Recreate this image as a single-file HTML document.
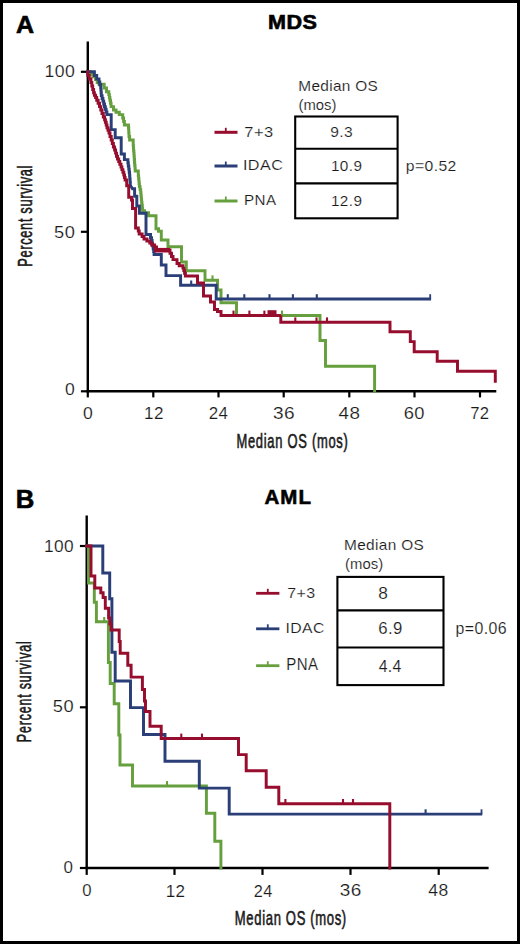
<!DOCTYPE html>
<html><head><meta charset="utf-8"><style>
html,body{margin:0;padding:0;background:#fff;}
body{width:520px;height:944px;overflow:hidden;}
svg{display:block;font-family:"Liberation Sans",sans-serif;font-kerning:none;}
text.t{stroke:#fff;stroke-width:0.15px;paint-order:fill stroke;}
text.ax{stroke:#1a1a1a;stroke-width:0.6px;}
text.bb{stroke:#000;stroke-width:0.6px;}
</style></head><body>
<svg width="520" height="944" viewBox="0 0 520 944">
<rect x="0" y="0" width="520" height="944" fill="#fff"/>
<text class="bb" transform="translate(15.98,33.20) scale(1.0194,1)" font-size="24.56" font-weight="bold" fill="#000">A</text>
<text class="bb" transform="translate(268.06,28.91) scale(1.1000,1)" font-size="19.63" letter-spacing="0.45" font-weight="bold" fill="#000">MDS</text>
<line x1="87.8" y1="41.4" x2="87.8" y2="392.40000000000003" stroke="#000" stroke-width="2.4"/>
<line x1="86.6" y1="391.3" x2="496.3" y2="391.3" stroke="#000" stroke-width="2.4"/>
<line x1="80.9" y1="71.8" x2="87.8" y2="71.8" stroke="#000" stroke-width="2.2"/>
<line x1="80.9" y1="231.8" x2="87.8" y2="231.8" stroke="#000" stroke-width="2.2"/>
<line x1="80.9" y1="391.3" x2="87.8" y2="391.3" stroke="#000" stroke-width="2.2"/>
<line x1="87.8" y1="391.3" x2="87.8" y2="397.4" stroke="#000" stroke-width="2.2"/>
<line x1="153.3" y1="391.3" x2="153.3" y2="397.4" stroke="#000" stroke-width="2.2"/>
<line x1="218.5" y1="391.3" x2="218.5" y2="397.4" stroke="#000" stroke-width="2.2"/>
<line x1="283.7" y1="391.3" x2="283.7" y2="397.4" stroke="#000" stroke-width="2.2"/>
<line x1="349.3" y1="391.3" x2="349.3" y2="397.4" stroke="#000" stroke-width="2.2"/>
<line x1="414.5" y1="391.3" x2="414.5" y2="397.4" stroke="#000" stroke-width="2.2"/>
<line x1="480.0" y1="391.3" x2="480.0" y2="397.4" stroke="#000" stroke-width="2.2"/>
<text class="t" transform="translate(44.46,76.75) scale(1.1252,1)" font-size="15.68" letter-spacing="0.40" fill="#1a1a1a">100</text>
<text class="t" transform="translate(54.07,238.34) scale(1.1138,1)" font-size="16.38" letter-spacing="0.40" fill="#1a1a1a">50</text>
<text class="t" transform="translate(64.91,395.35) scale(1.1108,1)" font-size="15.82" fill="#1a1a1a">0</text>
<text class="t" transform="translate(83.11,418.84) scale(1.1010,1)" font-size="15.96" fill="#1a1a1a">0</text>
<text class="t" transform="translate(144.10,419.00) scale(1.0578,1)" font-size="16.18" letter-spacing="0.40" fill="#1a1a1a">12</text>
<text class="t" transform="translate(208.75,419.00) scale(1.0460,1)" font-size="16.18" letter-spacing="0.40" fill="#1a1a1a">24</text>
<text class="t" transform="translate(272.97,418.84) scale(1.1933,1)" font-size="15.96" letter-spacing="0.40" fill="#1a1a1a">36</text>
<text class="t" transform="translate(338.57,418.84) scale(1.1818,1)" font-size="15.96" letter-spacing="0.40" fill="#1a1a1a">48</text>
<text class="t" transform="translate(403.67,418.84) scale(1.1484,1)" font-size="15.96" letter-spacing="0.40" fill="#1a1a1a">60</text>
<text class="t" transform="translate(470.14,419.00) scale(1.0324,1)" font-size="16.18" letter-spacing="0.40" fill="#1a1a1a">72</text>
<text class="ax" transform="translate(236.44,447.50) scale(0.6600,1)" font-size="19.62" letter-spacing="1.08" fill="#1a1a1a">Median OS (mos)</text>
<text transform="translate(32.30,266.76) rotate(-90) scale(0.6400,1)" font-size="20.14" letter-spacing="1.00" fill="#1a1a1a" class="ax">Percent survival</text>
<line x1="214.5" y1="132.3" x2="237.5" y2="132.3" stroke="#960d2e" stroke-width="3.0"/>
<line x1="225.8" y1="132.3" x2="225.8" y2="127.80000000000001" stroke="#960d2e" stroke-width="1.8"/>
<text class="t" transform="translate(244.36,137.35) scale(1.0981,1)" font-size="14.97" letter-spacing="0.40" fill="#1a1a1a">7+3</text>
<line x1="214.5" y1="166" x2="237.5" y2="166" stroke="#2a3f78" stroke-width="3.0"/>
<line x1="225.8" y1="166" x2="225.8" y2="161.5" stroke="#2a3f78" stroke-width="1.8"/>
<text class="t" transform="translate(242.91,170.46) scale(1.0894,1)" font-size="14.83" letter-spacing="0.40" fill="#1a1a1a">IDAC</text>
<line x1="214.5" y1="201" x2="237.5" y2="201" stroke="#66a03e" stroke-width="3.0"/>
<line x1="225.8" y1="201" x2="225.8" y2="196.5" stroke="#66a03e" stroke-width="1.8"/>
<text class="t" transform="translate(244.06,205.30) scale(0.9844,1)" font-size="15.41" letter-spacing="0.40" fill="#1a1a1a">PNA</text>
<text class="t" transform="translate(298.34,90.90) scale(1.0000,1)" font-size="15.41" letter-spacing="0.29" fill="#1a1a1a">Median OS</text>
<text class="t" transform="translate(298.58,109.80) scale(0.9600,1)" font-size="15.46" letter-spacing="-0.02" fill="#1a1a1a">(mos)</text>
<rect x="295.2" y="116.5" width="102.4" height="101.8" fill="none" stroke="#000" stroke-width="2.1"/>
<line x1="295.2" y1="148.8" x2="397.6" y2="148.8" stroke="#000" stroke-width="2.1"/>
<line x1="295.2" y1="183.4" x2="397.6" y2="183.4" stroke="#000" stroke-width="2.1"/>
<text class="t" transform="translate(330.27,137.36) scale(1.0709,1)" font-size="14.55" letter-spacing="0.40" fill="#1a1a1a">9.3</text>
<text class="t" transform="translate(330.93,171.16) scale(1.0535,1)" font-size="14.55" letter-spacing="0.40" fill="#1a1a1a">10.9</text>
<text class="t" transform="translate(330.93,205.86) scale(1.0438,1)" font-size="14.69" letter-spacing="0.40" fill="#1a1a1a">12.9</text>
<text class="t" transform="translate(405.79,170.84) scale(1.0322,1)" font-size="15.24" letter-spacing="0.40" fill="#1a1a1a">p=0.52</text>
<path d="M87.8,71.8 L90.3,71.8 L90.3,74.2 L92.9,74.2 L92.9,76.7 L95.5,76.7 L95.5,79.6 L97.2,79.6 L97.2,82.5 L99.0,82.5 L99.0,84.2 L104.2,84.2 L104.2,88.0 L106.5,88.0 L106.5,91.7 L108.8,91.7 L108.8,94.6 L109.4,94.6 L109.4,97.5 L109.9,97.5 L109.9,100.3 L110.5,100.3 L110.5,103.2 L111.1,103.2 L111.1,106.6 L113.5,106.6 L113.5,110.0 L116.0,110.0 L116.0,112.3 L119.3,112.3 L119.3,114.6 L122.7,114.6 L122.7,118.0 L123.6,118.0 L123.6,121.5 L124.4,121.5 L124.4,125.0 L128.5,125.0 L128.5,127.7 L128.7,127.7 L128.7,130.3 L128.8,130.3 L128.8,133.0 L129.0,133.0 L129.0,136.5 L129.6,136.5 L129.6,140.0 L130.2,140.0 L133.2,140.0 L133.2,142.3 L133.2,145.2 L133.4,145.2 L133.4,148.0 L133.6,148.0 L133.6,150.9 L133.9,150.9 L133.9,153.8 L134.1,153.8 L134.1,156.7 L134.3,156.7 L134.3,159.5 L134.5,159.5 L134.5,162.4 L134.7,162.4 L134.7,165.3 L135.0,165.3 L135.0,168.1 L135.2,168.1 L135.2,171.0 L135.4,171.0 L138.3,171.0 L138.3,172.9 L138.3,175.6 L138.6,175.6 L138.6,178.4 L138.9,178.4 L138.9,181.1 L139.1,181.1 L139.1,183.8 L139.4,183.8 L139.4,186.7 L140.1,186.7 L140.1,189.6 L140.7,189.6 L140.7,192.8 L141.0,192.8 L141.0,196.0 L141.3,196.0 L141.3,199.2 L141.6,199.2 L141.6,202.1 L141.9,202.1 L141.9,205.0 L142.3,205.0 L142.3,207.9 L142.6,207.9 L142.6,210.8 L144.5,210.8 L144.5,212.7 L146.4,212.7 L148.5,212.7 L148.5,215.8 L156.0,215.8 L156.0,228.8 L158.5,228.8 L158.5,231.3 L161.3,231.3 L161.3,240.0 L168.0,240.0 L168.0,246.7 L181.5,246.7 L181.5,262.0 L186.3,262.0 L186.3,270.8 L205.0,270.8 L205.0,280.2 L217.5,280.2 L217.5,290.0 L221.0,290.0 L221.0,302.8 L236.5,302.8 L236.5,315.5 L320.0,315.5 L320.0,340.5 L325.5,340.5 L325.5,366.3 L374.6,366.3 L374.6,391.3" fill="none" stroke="#66a03e" stroke-width="2.95" stroke-linejoin="miter" stroke-linecap="square"/>
<path d="M87.8,71.8 L94.4,71.8 L94.4,75.4 L96.7,75.4 L96.7,79.0 L99.0,79.0 L99.0,81.9 L99.8,81.9 L99.8,84.8 L100.7,84.8 L100.7,87.5 L100.9,87.5 L100.9,90.1 L101.1,90.1 L101.1,92.8 L101.3,92.8 L101.3,95.6 L102.1,95.6 L102.1,98.4 L102.9,98.4 L102.9,101.1 L103.7,101.1 L103.7,103.9 L104.5,103.9 L104.5,106.7 L105.3,106.7 L105.3,109.3 L106.1,109.3 L106.1,112.0 L106.9,112.0 L106.9,114.6 L107.7,114.6 L111.2,114.6 L111.2,129.6 L115.2,129.6 L115.2,137.7 L121.2,137.7 L121.2,154.0 L124.4,154.0 L124.4,159.6 L127.9,159.6 L127.9,162.8 L128.3,162.8 L128.3,165.9 L128.8,165.9 L128.8,169.1 L129.2,169.1 L129.2,172.3 L129.6,172.3 L129.6,175.7 L129.8,175.7 L129.8,179.1 L130.1,179.1 L130.1,182.4 L130.3,182.4 L130.3,185.8 L130.6,185.8 L132.5,188.7 L134.6,188.7 L134.6,196.3 L136.8,196.3 L136.8,206.0 L139.4,206.0 L139.4,213.2 L146.0,213.2 L146.0,234.5 L150.5,234.5 L150.5,237.7 L151.5,237.7 L151.5,240.4 L152.1,240.4 L152.1,243.1 L152.6,243.1 L152.6,245.8 L153.2,245.8 L153.2,248.7 L153.7,248.7 L153.7,251.5 L154.1,251.5 L154.1,254.4 L154.6,254.4 L161.3,254.4 L161.3,265.0 L166.0,265.0 L166.0,275.6 L180.6,275.6 L180.6,285.3 L216.2,285.3 L216.2,299.0 L429.6,299.0" fill="none" stroke="#2a3f78" stroke-width="2.95" stroke-linejoin="miter" stroke-linecap="square"/>
<path d="M87.8,71.8 L87.8,75.4 L89.3,75.4 L89.3,79.0 L90.9,79.0 L90.9,82.5 L91.8,82.5 L91.8,86.0 L92.7,86.0 L92.7,89.4 L93.6,89.4 L93.6,92.8 L94.4,92.8 L94.4,95.2 L95.6,95.2 L95.6,97.5 L96.7,97.5 L96.7,100.3 L98.1,100.3 L98.1,103.2 L99.5,103.2 L99.5,106.6 L100.8,106.6 L100.8,110.0 L102.0,110.0 L102.0,113.5 L103.3,113.5 L103.3,117.0 L104.6,117.0 L104.6,119.7 L105.4,119.7 L105.4,122.3 L106.2,122.3 L106.2,125.0 L107.0,125.0 L107.0,127.7 L108.0,127.7 L108.0,130.3 L109.0,130.3 L109.0,133.0 L110.0,133.0 L110.0,136.5 L111.2,136.5 L111.2,140.0 L112.3,140.0 L112.3,143.4 L113.4,143.4 L113.4,146.9 L114.6,146.9 L114.6,150.0 L115.6,150.0 L115.6,153.1 L116.5,153.1 L116.5,156.2 L117.5,156.2 L117.5,158.9 L118.7,158.9 L118.7,161.5 L119.8,161.5 L119.8,164.2 L121.0,164.2 L121.0,166.9 L121.9,166.9 L121.9,169.6 L122.9,169.6 L122.9,172.3 L123.8,172.3 L123.8,174.9 L124.5,174.9 L124.5,177.4 L125.1,177.4 L125.1,180.0 L125.8,180.0 L126.7,180.0 L126.7,185.8 L128.7,185.8 L128.7,197.3 L131.5,197.3 L131.5,200.0 L132.5,200.0 L132.5,208.5 L135.6,208.5 L135.6,228.0 L138.3,228.0 L138.3,231.0 L139.2,231.0 L139.2,234.0 L142.1,234.0 L142.1,236.5 L144.0,236.5 L144.0,239.0 L146.9,239.0 L146.9,241.0 L149.8,241.0 L149.8,243.0 L151.7,243.0 L151.7,245.0 L154.6,245.0 L154.6,247.0 L156.5,247.0 L156.5,250.0 L170.0,250.0 L170.0,253.2 L171.5,253.2 L171.5,256.5 L173.0,256.5 L173.0,259.6 L177.0,259.6 L177.0,263.5 L179.2,263.5 L179.2,265.8 L183.0,265.8 L183.0,268.1 L183.8,268.1 L183.8,270.4 L184.6,270.4 L184.6,273.2 L185.4,273.2 L185.4,276.0 L186.2,276.0 L197.5,276.0 L197.5,283.0 L203.5,283.0 L203.5,296.0 L210.5,296.0 L210.5,302.0 L214.5,302.0 L214.5,309.5 L217.5,309.5 L217.5,311.5 L221.0,311.5 L221.0,315.4 L280.8,315.4 L280.8,322.2 L390.0,322.2 L390.0,331.8 L410.3,331.8 L410.3,341.6 L414.2,341.6 L414.2,351.8 L437.2,351.8 L437.2,361.3 L457.5,361.3 L457.5,371.3 L495.3,371.3 L495.3,381.2" fill="none" stroke="#960d2e" stroke-width="2.95" stroke-linejoin="miter" stroke-linecap="square"/>
<line x1="154" y1="250.2" x2="170" y2="250.2" stroke="#960d2e" stroke-width="4.6"/>
<line x1="227.8" y1="299" x2="227.8" y2="294.2" stroke="#2a3f78" stroke-width="2.1"/>
<line x1="244.3" y1="299" x2="244.3" y2="294.2" stroke="#2a3f78" stroke-width="2.1"/>
<line x1="269.5" y1="299" x2="269.5" y2="294.2" stroke="#2a3f78" stroke-width="2.1"/>
<line x1="292.9" y1="299" x2="292.9" y2="294.2" stroke="#2a3f78" stroke-width="2.1"/>
<line x1="316.8" y1="299" x2="316.8" y2="294.2" stroke="#2a3f78" stroke-width="2.1"/>
<line x1="191.2" y1="285.3" x2="191.2" y2="280.5" stroke="#2a3f78" stroke-width="2.1"/>
<line x1="430.2" y1="299" x2="430.2" y2="294.2" stroke="#2a3f78" stroke-width="1.8"/>
<line x1="212.5" y1="280.2" x2="212.5" y2="275.4" stroke="#66a03e" stroke-width="2.1"/>
<line x1="282" y1="315.4" x2="282" y2="310.59999999999997" stroke="#66a03e" stroke-width="2.1"/>
<line x1="233.5" y1="315.4" x2="233.5" y2="310.59999999999997" stroke="#960d2e" stroke-width="2.1"/>
<line x1="249.4" y1="315.4" x2="249.4" y2="310.59999999999997" stroke="#960d2e" stroke-width="2.1"/>
<line x1="264.4" y1="315.4" x2="264.4" y2="310.59999999999997" stroke="#960d2e" stroke-width="2.1"/>
<rect x="267.5" y="310.2" width="9" height="5" fill="#960d2e"/>
<line x1="295.3" y1="322.2" x2="295.3" y2="317.4" stroke="#960d2e" stroke-width="2.1"/>
<line x1="316.5" y1="322.2" x2="316.5" y2="317.4" stroke="#960d2e" stroke-width="2.1"/>
<line x1="327" y1="322.2" x2="327" y2="317.4" stroke="#960d2e" stroke-width="2.1"/>
<text class="bb" transform="translate(15.78,507.90) scale(1.0063,1)" font-size="25.58" font-weight="bold" fill="#000">B</text>
<text class="bb" transform="translate(264.49,503.60) scale(1.0000,1)" font-size="20.49" letter-spacing="1.02" font-weight="bold" fill="#000">AML</text>
<line x1="86.7" y1="515.6" x2="86.7" y2="869.1" stroke="#000" stroke-width="2.4"/>
<line x1="85.5" y1="868" x2="488.6" y2="868" stroke="#000" stroke-width="2.4"/>
<line x1="79.9" y1="546" x2="86.7" y2="546" stroke="#000" stroke-width="2.2"/>
<line x1="79.9" y1="707.3" x2="86.7" y2="707.3" stroke="#000" stroke-width="2.2"/>
<line x1="79.9" y1="868" x2="86.7" y2="868" stroke="#000" stroke-width="2.2"/>
<line x1="86.7" y1="868" x2="86.7" y2="874.9" stroke="#000" stroke-width="2.2"/>
<line x1="174.5" y1="868" x2="174.5" y2="874.9" stroke="#000" stroke-width="2.2"/>
<line x1="262.5" y1="868" x2="262.5" y2="874.9" stroke="#000" stroke-width="2.2"/>
<line x1="350.5" y1="868" x2="350.5" y2="874.9" stroke="#000" stroke-width="2.2"/>
<line x1="438.7" y1="868" x2="438.7" y2="874.9" stroke="#000" stroke-width="2.2"/>
<text class="t" transform="translate(43.88,551.54) scale(1.0642,1)" font-size="16.24" letter-spacing="0.40" fill="#1a1a1a">100</text>
<text class="t" transform="translate(52.87,712.04) scale(1.1138,1)" font-size="16.38" letter-spacing="0.40" fill="#1a1a1a">50</text>
<text class="t" transform="translate(63.44,873.44) scale(1.0432,1)" font-size="16.24" fill="#1a1a1a">0</text>
<text class="t" transform="translate(82.35,896.44) scale(1.0215,1)" font-size="16.38" fill="#1a1a1a">0</text>
<text class="t" transform="translate(165.70,896.60) scale(1.0281,1)" font-size="16.61" letter-spacing="0.40" fill="#1a1a1a">12</text>
<text class="t" transform="translate(253.68,896.60) scale(0.9825,1)" font-size="16.61" letter-spacing="0.40" fill="#1a1a1a">24</text>
<text class="t" transform="translate(339.78,896.44) scale(1.1574,1)" font-size="16.38" letter-spacing="0.40" fill="#1a1a1a">36</text>
<text class="t" transform="translate(428.35,896.44) scale(1.0692,1)" font-size="16.38" letter-spacing="0.40" fill="#1a1a1a">48</text>
<text class="ax" transform="translate(234.83,925.20) scale(0.6600,1)" font-size="19.77" letter-spacing="1.00" fill="#1a1a1a">Median OS (mos)</text>
<text transform="translate(31.30,742.22) rotate(-90) scale(0.6400,1)" font-size="19.45" letter-spacing="1.30" fill="#1a1a1a" class="ax">Percent survival</text>
<line x1="256.1" y1="593.3" x2="279.4" y2="593.3" stroke="#960d2e" stroke-width="2.8"/>
<line x1="267.8" y1="593.3" x2="267.8" y2="588.8" stroke="#960d2e" stroke-width="1.8"/>
<text class="t" transform="translate(287.18,597.96) scale(1.0958,1)" font-size="14.55" letter-spacing="0.40" fill="#1a1a1a">7+3</text>
<line x1="256.1" y1="628.8" x2="279.4" y2="628.8" stroke="#2a3f78" stroke-width="2.8"/>
<line x1="267.8" y1="628.8" x2="267.8" y2="624.3" stroke="#2a3f78" stroke-width="1.8"/>
<text class="t" transform="translate(285.55,633.35) scale(1.0229,1)" font-size="15.40" letter-spacing="0.40" fill="#1a1a1a">IDAC</text>
<line x1="256.1" y1="665.7" x2="279.4" y2="665.7" stroke="#66a03e" stroke-width="2.8"/>
<line x1="267.8" y1="665.7" x2="267.8" y2="661.2" stroke="#66a03e" stroke-width="1.8"/>
<text class="t" transform="translate(286.27,670.30) scale(0.9572,1)" font-size="15.70" letter-spacing="0.40" fill="#1a1a1a">PNA</text>
<text class="t" transform="translate(344.04,550.40) scale(1.0000,1)" font-size="15.41" letter-spacing="0.34" fill="#1a1a1a">Median OS</text>
<text class="t" transform="translate(345.08,569.30) scale(0.9600,1)" font-size="15.46" letter-spacing="0.06" fill="#1a1a1a">(mos)</text>
<rect x="337.4" y="576.9" width="106.1" height="108.2" fill="none" stroke="#000" stroke-width="2.1"/>
<line x1="337.4" y1="610.4" x2="443.5" y2="610.4" stroke="#000" stroke-width="2.1"/>
<line x1="337.4" y1="647.5" x2="443.5" y2="647.5" stroke="#000" stroke-width="2.1"/>
<text class="t" transform="translate(378.25,598.64) scale(1.0816,1)" font-size="15.96" fill="#1a1a1a">8</text>
<text class="t" transform="translate(378.15,634.14) scale(1.0504,1)" font-size="15.96" letter-spacing="0.40" fill="#1a1a1a">6.9</text>
<text class="t" transform="translate(378.64,671.70) scale(0.9376,1)" font-size="16.86" letter-spacing="0.40" fill="#1a1a1a">4.4</text>
<text class="t" transform="translate(455.58,634.35) scale(0.9859,1)" font-size="16.12" letter-spacing="0.40" fill="#1a1a1a">p=0.06</text>
<path d="M86.7,546.0 L88.5,546.0 L88.5,583.0 L94.3,583.0 L94.3,602.3 L96.4,602.3 L96.4,621.8 L108.4,621.8 L108.4,662.5 L110.2,662.5 L110.2,683.5 L114.2,683.5 L114.2,703.7 L118.8,703.7 L118.8,735.0 L120.0,735.0 L120.0,765.0 L132.5,765.0 L132.5,785.9 L206.4,785.9 L206.4,813.3 L214.8,813.3 L214.8,841.3 L220.9,841.3 L220.9,868.0" fill="none" stroke="#66a03e" stroke-width="2.95" stroke-linejoin="miter" stroke-linecap="square"/>
<path d="M86.7,546.0 L102.8,546.0 L102.8,572.9 L109.7,572.9 L109.7,598.8 L111.9,598.8 L111.9,652.2 L115.2,652.2 L115.2,681.0 L130.5,681.0 L130.5,707.6 L143.5,707.6 L143.5,734.5 L165.0,734.5 L165.0,761.3 L199.3,761.3 L199.3,788.1 L229.2,788.1 L229.2,814.1 L480.8,814.1" fill="none" stroke="#2a3f78" stroke-width="2.95" stroke-linejoin="miter" stroke-linecap="square"/>
<path d="M86.7,546.0 L91.0,546.0 L91.0,576.0 L94.8,576.0 L94.8,588.0 L100.8,588.0 L100.8,592.8 L103.1,592.8 L103.1,597.5 L105.3,597.5 L105.3,608.2 L108.6,608.2 L108.6,618.0 L109.8,618.0 L109.8,624.0 L111.0,624.0 L111.0,630.0 L119.2,630.0 L119.2,641.4 L120.2,641.4 L120.2,653.3 L127.8,653.3 L127.8,665.2 L131.1,665.2 L131.1,677.1 L142.4,677.1 L142.4,689.5 L144.5,689.5 L144.5,701.0 L145.5,701.0 L145.5,711.5 L150.0,711.5 L150.0,726.2 L161.2,726.2 L161.2,738.4 L238.5,738.4 L238.5,754.6 L246.2,754.6 L246.2,770.8 L266.2,770.8 L266.2,787.3 L278.8,787.3 L278.8,803.8 L389.8,803.8 L389.8,868.0" fill="none" stroke="#960d2e" stroke-width="2.95" stroke-linejoin="miter" stroke-linecap="square"/>
<line x1="104.2" y1="621.8" x2="104.2" y2="617.0" stroke="#66a03e" stroke-width="2.1"/>
<line x1="167" y1="785.9" x2="167" y2="781.1" stroke="#66a03e" stroke-width="2.1"/>
<line x1="425.6" y1="814.1" x2="425.6" y2="809.3000000000001" stroke="#2a3f78" stroke-width="2.1"/>
<line x1="481.5" y1="814.1" x2="481.5" y2="809.3" stroke="#2a3f78" stroke-width="1.8"/>
<line x1="181.3" y1="738.4" x2="181.3" y2="733.6" stroke="#960d2e" stroke-width="2.1"/>
<line x1="202" y1="738.4" x2="202" y2="733.6" stroke="#960d2e" stroke-width="2.1"/>
<line x1="285.4" y1="803.8" x2="285.4" y2="799.0" stroke="#960d2e" stroke-width="2.1"/>
<line x1="343" y1="803.8" x2="343" y2="799.0" stroke="#960d2e" stroke-width="2.1"/>
<line x1="353" y1="803.8" x2="353" y2="799.0" stroke="#960d2e" stroke-width="2.1"/>
<rect x="1.5" y="1.5" width="517" height="941" fill="none" stroke="#000" stroke-width="3"/>
</svg>
</body></html>
